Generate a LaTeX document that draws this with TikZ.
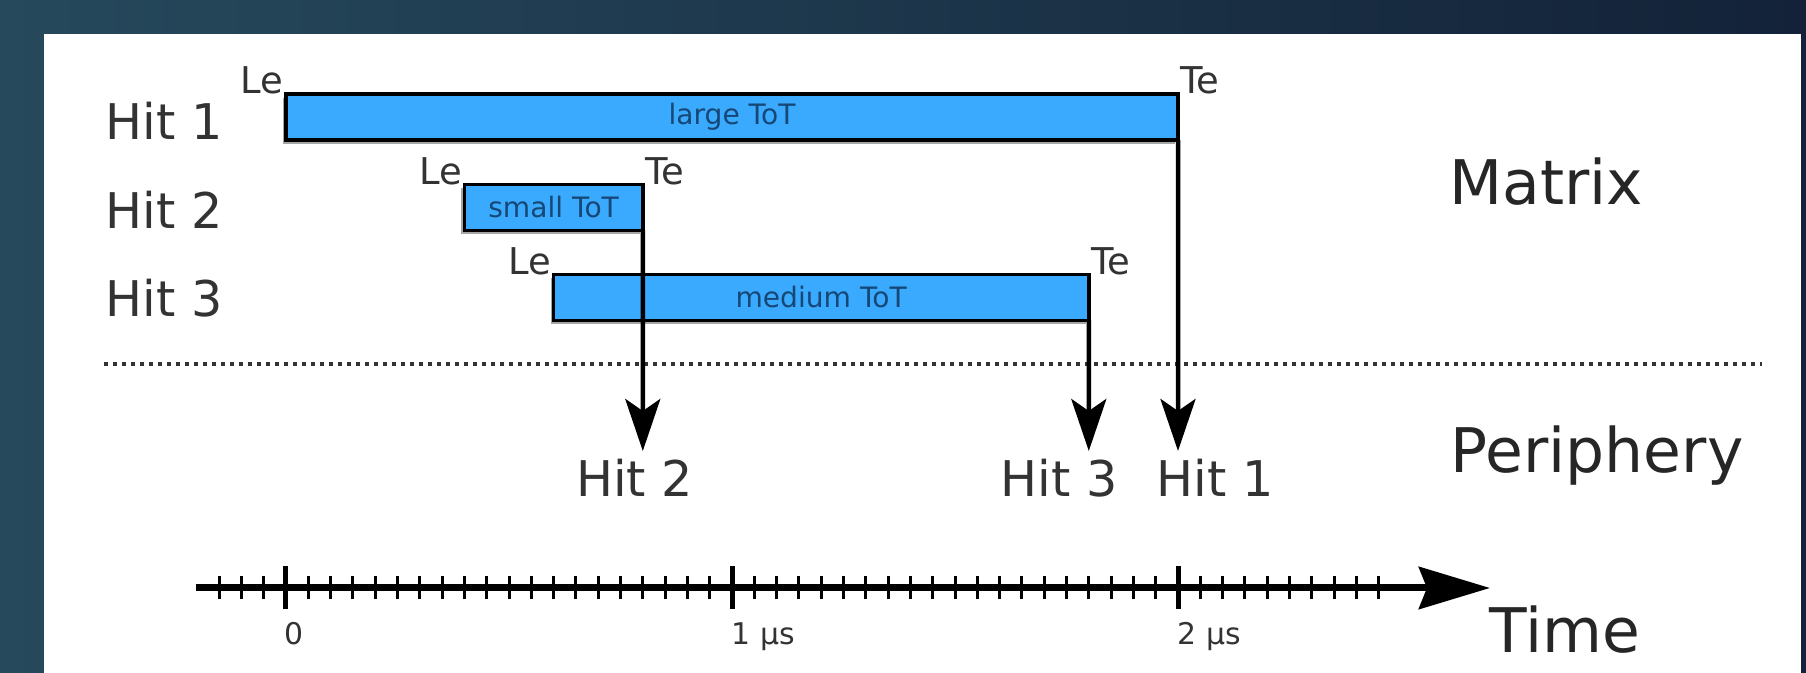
\documentclass[tikz,border=0pt]{standalone}
\usepackage{fontspec}
\setmainfont{DejaVu Sans}
\usetikzlibrary{arrows.meta,shadows}

\definecolor{bgleft}{HTML}{26495C}
\definecolor{bgright}{HTML}{132238}
\definecolor{totblue}{HTML}{3AAAFE}
\definecolor{tottext}{HTML}{164776}
\definecolor{lblgray}{HTML}{333333}

\tikzset{
	totbar/.style={draw, line width=0.035cm, fill=totblue, minimum height=0.46cm, inner sep=0, outer sep=0, text=tottext, font=\fontsize{8}{8}\selectfont, drop shadow={shadow xshift=-0.03cm, shadow yshift=-0.04cm, fill=black, opacity=0.35}},
	edgelbl/.style={inner sep=0.5pt, text=lblgray, font=\fontsize{10.5}{10.5}\selectfont},
	hitlbl/.style={inner sep=0, text=lblgray, font=\fontsize{14}{14}\selectfont},
	zonelbl/.style={inner sep=0, text=black!85, font=\fontsize{17.5}{17.5}\selectfont},
	ticklbl/.style={inner sep=0, text=lblgray, font=\fontsize{8.5}{8.5}\selectfont},
	hitline/.style={line width=0.045cm, -{Stealth[length=0.52cm, width=0.35cm, inset=0.12cm]}},
	sepline/.style={line width=0.04cm, dash pattern=on 0.045cm off 0.045cm, black!80},
	timeaxis/.style={line width=0.07cm, -{Stealth[length=0.71cm, width=0.42cm, inset=0.08cm]}},
}

\begin{document}
\begin{tikzpicture}
	%%%%% START %%%%%
	
	\useasboundingbox (-2.86, -0.85) rectangle (15.20, 5.88);
	\fill[left color=bgleft, right color=bgright] (-2.86, -0.85) rectangle (15.20, 5.88);
	\fill[white] (-2.42, -0.85) rectangle (15.15, 5.54);
	
	% hits in the matrix
	\node[totbar, minimum width=8.92cm] (bar1) at (4.46, 4.71) {large ToT};
	\node[totbar, minimum width=1.784cm] (bar2) at (2.676, 3.805) {small ToT};
	\node[totbar, minimum width=5.352cm] (bar3) at (5.352, 2.905) {medium ToT};
	
	\node[edgelbl, anchor=base east] (le1) at (bar1.north west) {Le};
	\node[edgelbl, anchor=base west] (te1) at (bar1.north east) {Te};
	\node[edgelbl, anchor=base east] (le2) at (bar2.north west) {Le};
	\node[edgelbl, anchor=base west] (te2) at (bar2.north east) {Te};
	\node[edgelbl, anchor=base east] (le3) at (bar3.north west) {Le};
	\node[edgelbl, anchor=base west] (te3) at (bar3.north east) {Te};
	
	\node[hitlbl, anchor=base west] (hit1) at (-1.81, 4.48) {Hit 1};
	\node[hitlbl, anchor=base west] (hit2) at (-1.81, 3.59) {Hit 2};
	\node[hitlbl, anchor=base west] (hit3) at (-1.81, 2.71) {Hit 3};
	
	\node[zonelbl, anchor=base west] (matrix) at (11.63, 3.83) {Matrix};
	\node[zonelbl, anchor=base west] (periph) at (11.64, 1.15) {Periphery};
	
	% matrix / periphery border
	\coordinate (sepL) at (-1.82, 2.24);
	\coordinate (sepR) at (14.76, 2.24);
	\draw[sepline] (sepL) -- (sepR);
	
	% readout in order of Te
	\coordinate (out2) at (3.568, 1.37);
	\coordinate (out3) at (8.028, 1.37);
	\coordinate (out1) at (8.92, 1.37);
	\draw[hitline] (bar2.south east) -- (out2);
	\draw[hitline] (bar3.south east) -- (out3);
	\draw[hitline] (bar1.south east) -- (out1);
	
	\node[hitlbl, anchor=base] (per2) at (3.485, 0.91) {Hit 2};
	\node[hitlbl, anchor=base] (per3) at (7.73, 0.91) {Hit 3};
	\node[hitlbl, anchor=base] (per1) at (9.29, 0.91) {Hit 1};
	
	% time axis, 1 us = 4.46
	\coordinate (t0) at (-0.90, 0);
	\coordinate (tend) at (12.04, 0);
	\foreach \i in {-3,...,49}
		\draw[line width=0.03cm] (\i*0.223, -0.115) -- (\i*0.223, 0.115);
	\foreach \t in {0,1,2}
		\draw[line width=0.05cm] (\t*4.46, -0.215) -- (\t*4.46, 0.215);
	\draw[timeaxis] (t0) -- (tend);
	
	\node[ticklbl, anchor=base west] (lbl0) at (-0.02, -0.57) {0};
	\node[ticklbl, anchor=base west] (lbl1) at (4.45, -0.57) {1 µs};
	\node[ticklbl, anchor=base west] (lbl2) at (8.91, -0.57) {2 µs};
	\node[zonelbl, anchor=base west] (time) at (12.03, -0.65) {Time};
	
	%%%%% END %%%%%
\end{tikzpicture}
\end{document}
